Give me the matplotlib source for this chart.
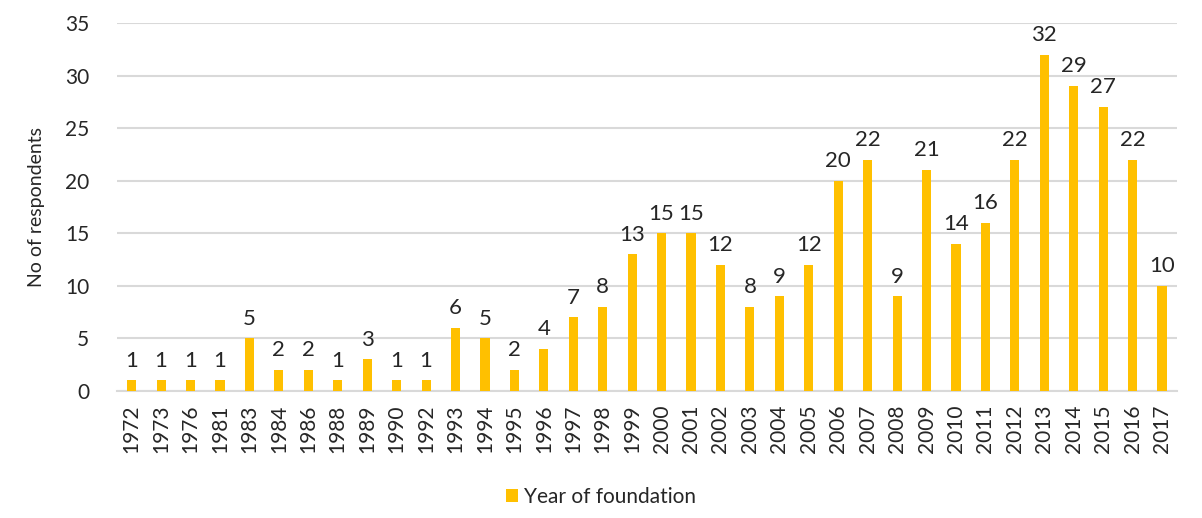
import numpy as np
import matplotlib
matplotlib.use('Agg')
from matplotlib import pyplot as plt

# %% Data.
years = ['1972', '1973', '1976', '1981', '1983', '1984', '1986', '1988', '1989',
         '1990', '1992', '1993', '1994', '1995', '1996', '1997', '1998', '1999',
         '2000', '2001', '2002', '2003', '2004', '2005', '2006', '2007', '2008',
         '2009', '2010', '2011', '2012', '2013', '2014', '2015', '2016', '2017']
counts = [1, 1, 1, 1, 5, 2, 2, 1, 3,
          1, 1, 6, 5, 2, 4, 7, 8, 13,
          15, 15, 12, 8, 9, 12, 20, 22, 9,
          21, 14, 16, 22, 32, 29, 27, 22, 10]

# %% Chart.
plt.rcParams['font.family'] = ['Lato', 'DejaVu Sans']
fig = plt.figure(figsize=(12.02, 5.18), dpi=100)
ax = fig.add_axes([0.0973, 0.2452, 0.8817, 0.7104])

x = np.arange(len(years))
bars = ax.bar(x, counts, width=0.31, color='#FFC000', label='Year of foundation', zorder=3)

# Data labels:
ax.bar_label(bars, labels=[str(v) for v in counts], padding=7, fontsize=16, color='#262626')

# Axes:
ax.set_ylim(0, 35)
ax.set_xlim(-0.5, len(years) - 0.5)
ax.set_yticks(range(0, 36, 5))
ax.set_xticks(x)
ax.set_xticklabels(years, rotation=90, fontsize=15, color='#262626')
ax.tick_params(axis='y', labelsize=15, labelcolor='#262626', length=0, pad=20)
ax.tick_params(axis='x', length=0, pad=10)
ax.set_ylabel('No of respondents', fontsize=14, color='#262626', labelpad=14)

ax.grid(axis='y', color='#D9D9D9', linewidth=1.5, zorder=0)
for s in ['top', 'right', 'left']:
    ax.spines[s].set_visible(False)
ax.spines['bottom'].set_color('#D9D9D9')
ax.spines['bottom'].set_linewidth(1.5)

fig.legend(loc='lower center', bbox_to_anchor=(0.5, -0.015), frameon=False, fontsize=15,
           handlelength=0.6, handleheight=0.6, handletextpad=0.3, labelcolor='#262626')

plt.savefig('out.png', dpi=100)
